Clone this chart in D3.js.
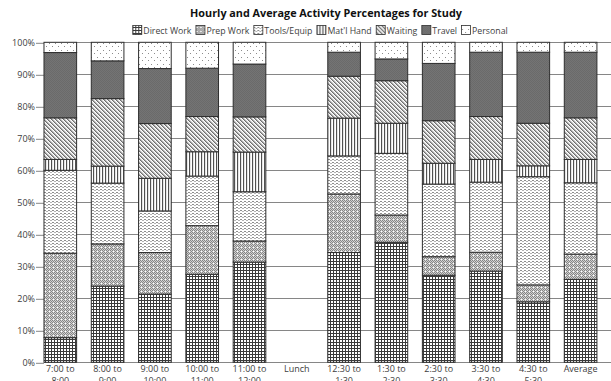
<!DOCTYPE html>
<html>
<head>
<meta charset="utf-8">
<script src="https://cdn.jsdelivr.net/npm/d3@7"></script>
<style>
  html, body { margin: 0; padding: 0; background: #fff; }
  svg { display: block; font-family: "Open Sans", "Noto Sans", sans-serif; }
</style>
</head>
<body>
<svg id="chart" width="611" height="381"></svg>
<script>
// Time slots across the working day, plus the overall average
const categories = ["7:00 to 8:00", "8:00 to 9:00", "9:00 to 10:00", "10:00 to 11:00", "11:00 to 12:00",
  "Lunch", "12:30 to 1:30", "1:30 to 2:30", "2:30 to 3:30", "3:30 to 4:30", "4:30 to 5:30", "Average"];

// Share of observed time (%) for each activity, per slot (Lunch has no observations)
const directWork = [7.7, 23.8, 21.3, 27.5, 31.3, 0, 34.3, 37.5, 27.2, 28.5, 18.9, 25.9];
const prepWork   = [26.4, 13.2, 13.0, 15.2, 6.6, 0, 18.3, 8.5, 5.8, 5.9, 5.3, 7.9];
const toolsEquip = [25.9, 19.0, 13.0, 15.5, 15.4, 0, 11.9, 19.3, 22.7, 21.9, 33.8, 22.3];
const matlHand   = [3.4, 5.3, 10.2, 7.6, 12.4, 0, 11.8, 9.4, 6.5, 7.1, 3.4, 7.3];
const waiting    = [13.0, 21.1, 17.1, 11.0, 11.0, 0, 13.1, 13.3, 13.3, 13.4, 13.3, 13.0];
const travel     = [20.4, 11.8, 17.2, 15.1, 16.5, 0, 7.5, 6.8, 17.9, 20.1, 22.2, 20.5];
const personal   = [3.2, 5.8, 8.2, 8.1, 6.8, 0, 3.1, 5.2, 6.6, 3.1, 3.1, 3.1];

const seriesNames = ["Direct Work", "Prep Work", "Tools/Equip", "Mat'l Hand", "Waiting", "Travel", "Personal"];
const seriesValues = [directWork, prepWork, toolsEquip, matlHand, waiting, travel, personal];
const yTicks = [0, 10, 20, 30, 40, 50, 60, 70, 80, 90, 100];

const title = "Hourly and Average Activity Percentages for Study";

const svg = d3.select("#chart");

// ---- fill patterns, one per activity ----
const defs = svg.append("defs");
function pattern(id, w, h, bg, draw) {
  const p = defs.append("pattern").attr("id", id)
    .attr("patternUnits", "userSpaceOnUse").attr("width", w).attr("height", h);
  p.append("rect").attr("width", w).attr("height", h).attr("fill", bg);
  draw(p);
}
const px = (p, x, y, c, w = 1, h = 1) =>
  p.append("rect").attr("x", x).attr("y", y).attr("width", w).attr("height", h).attr("fill", c);

// Direct Work: small square grid
pattern("pat0", 3, 3, "#ffffff", p => {
  px(p, 0, 0, "#3a3a3a", 3, 1);
  px(p, 0, 0, "#3a3a3a", 1, 3);
});
// Prep Work: fine grey dither with a diagonal grain
pattern("pat1", 4, 4, "#d2d2d2", p => {
  px(p, 0, 0, "#858585"); px(p, 2, 0, "#858585");
  px(p, 1, 1, "#858585"); px(p, 3, 1, "#858585");
  px(p, 0, 2, "#858585"); px(p, 2, 2, "#858585");
  px(p, 3, 3, "#858585"); px(p, 1, 3, "#ffffff");
});
// Tools/Equip: horizontal wavy dashes
pattern("pat2", 4, 3, "#ffffff", p => {
  px(p, 0, 0, "#8e8e8e", 2, 1);
  px(p, 2, 1, "#b4b4b4", 2, 1);
});
// Mat'l Hand: vertical lines
pattern("pat3", 3, 3, "#e4e4e4", p => {
  px(p, 0, 0, "#505050", 1, 3);
  px(p, 2, 0, "#ffffff", 1, 3);
});
// Waiting: downward diagonal stripes
pattern("pat4", 4, 4, "#e0e0e0", p => {
  px(p, 0, 0, "#6e6e6e"); px(p, 1, 1, "#6e6e6e");
  px(p, 2, 2, "#6e6e6e"); px(p, 3, 3, "#6e6e6e");
  px(p, 1, 0, "#a8a8a8"); px(p, 2, 1, "#a8a8a8");
  px(p, 3, 2, "#a8a8a8"); px(p, 0, 3, "#a8a8a8");
  px(p, 3, 0, "#ffffff"); px(p, 0, 1, "#ffffff");
  px(p, 1, 2, "#ffffff"); px(p, 2, 3, "#ffffff");
});
// Travel: dark grey with faint checker
pattern("pat5", 2, 2, "#747474", p => {
  px(p, 0, 0, "#6a6a6a"); px(p, 1, 1, "#6a6a6a");
});
// Personal: sparse staggered dots on white
pattern("pat6", 6, 7, "#ffffff", p => {
  px(p, 1, 1, "#8c8c8c");
  px(p, 4, 4, "#8c8c8c");
});

// ---- scales ----
const x = d3.scaleBand().domain(categories)
  .range([36.65, 604.25]).paddingInner(0.31).paddingOuter(0.155);
const y = d3.scaleLinear().domain([0, 100]).range([362.3, 42.3]);
const plotLeft = 44, plotRight = 611;

// ---- gridlines ----
svg.append("g").selectAll("line").data(yTicks).join("line")
  .attr("x1", plotLeft).attr("x2", plotRight)
  .attr("y1", d => Math.round(y(d)) + 0.5).attr("y2", d => Math.round(y(d)) + 0.5)
  .attr("stroke", "#868686").attr("stroke-width", 1);

// ---- y axis ----
const yAxis = d3.axisLeft(y).tickValues(yTicks).tickFormat(d => d + "%")
  .tickSize(8).tickPadding(1);
const yg = svg.append("g").attr("transform", `translate(${plotLeft},0.5)`).call(yAxis);
yg.select(".domain").remove();
yg.selectAll(".tick line").attr("stroke", "#868686");
yg.selectAll(".tick text").attr("fill", "#404040").attr("font-size", 9)
  .attr("font-family", "'Open Sans', sans-serif");

// ---- stacked bars ----
const rows = categories.map((c, i) => {
  const r = { cat: c };
  seriesNames.forEach((s, k) => { r[s] = seriesValues[k][i]; });
  return r;
});
const stacked = d3.stack().keys(seriesNames)(rows);

const barLayer = svg.append("g");
stacked.forEach((layer, k) => {
  barLayer.append("g").selectAll("rect")
    .data(layer.filter(d => d[1] - d[0] > 0))
    .join("rect")
    .attr("x", d => x(d.data.cat))
    .attr("width", x.bandwidth())
    .attr("y", d => y(d[1]))
    .attr("height", d => y(d[0]) - y(d[1]))
    .attr("fill", `url(#pat${k})`)
    .attr("stroke", "#2e2e2e").attr("stroke-width", 1);
});

// ---- x axis labels (two lines each, the second runs off the bottom edge) ----
const xl = svg.append("g").attr("font-size", 9).attr("fill", "#404040")
  .attr("text-anchor", "middle");
categories.forEach(c => {
  const cx = x(c) + x.bandwidth() / 2;
  const parts = c.includes(" to ") ? [c.split(" to ")[0] + " to", c.split(" to ")[1]] : [c];
  const t = xl.append("text").attr("x", cx).attr("y", 372);
  parts.forEach((line, j) => {
    t.append("tspan").attr("x", cx).attr("dy", j === 0 ? 0 : 12).text(line);
  });
});

// ---- title ----
const tt = svg.append("text").attr("x", 326).attr("y", 16.5)
  .attr("text-anchor", "middle").attr("font-weight", "bold")
  .attr("font-size", 11).attr("fill", "#111").text(title);
const tLen = tt.node().getComputedTextLength();
if (tLen > 0) tt.attr("font-size", Math.min(12, 11 * 272 / tLen));

// ---- legend, fitted to a fixed strip under the title ----
function drawLegend(fontSize, gap) {
  svg.select(".legend").remove();
  const legend = svg.append("g").attr("class", "legend")
    .attr("font-size", fontSize).attr("fill", "#404040");
  let lx = 0;
  seriesNames.forEach((s, k) => {
    const g = legend.append("g").attr("transform", `translate(${lx},0)`);
    g.append("rect").attr("x", 0.5).attr("y", 25.5).attr("width", 9).attr("height", 9)
      .attr("fill", `url(#pat${k})`).attr("stroke", "#2e2e2e").attr("stroke-width", 0.8);
    const t = g.append("text").attr("x", 11).attr("y", 33.5).text(s);
    lx += 11 + t.node().getComputedTextLength() + gap;
  });
  const width = lx - gap;
  legend.attr("transform", `translate(${320 - width / 2},0)`);
  return width;
}
const targetLegend = 376, legendGap = 4;
let lw = drawLegend(9, legendGap);
if (lw > targetLegend) {
  const fixed = seriesNames.length * (11 + legendGap) - legendGap;
  drawLegend(9 * (targetLegend - fixed) / (lw - fixed), legendGap);
}
</script>
</body>
</html>
